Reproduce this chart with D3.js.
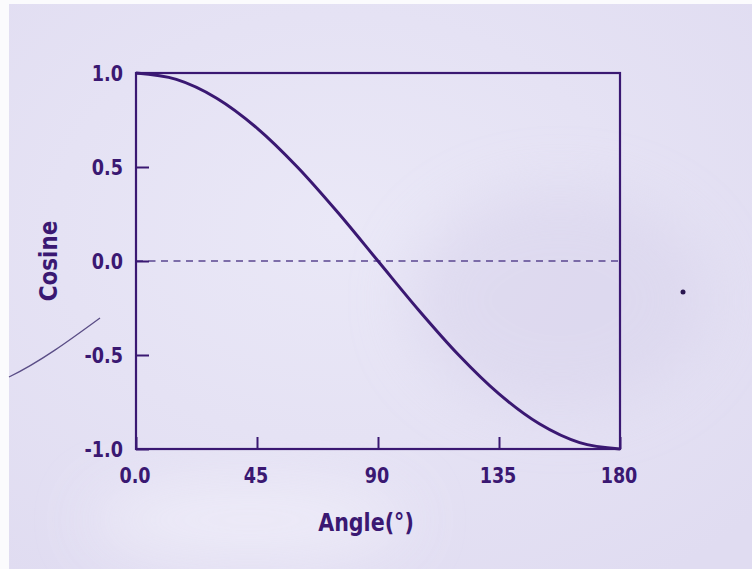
<!DOCTYPE html>
<html>
<head>
<meta charset="utf-8">
<script src="https://cdn.jsdelivr.net/npm/d3@7"></script>
<style>
  body { margin: 0; background: #fff; }
  svg { display: block; }
  text { font-family: "DejaVu Sans", "Liberation Sans", sans-serif; font-weight: bold; fill: #3a1872; }
</style>
</head>
<body>
<svg width="752" height="569"></svg>
<script>
// values (angle in degrees, cosine)
var angles = [0, 15, 30, 45, 60, 75, 90, 105, 120, 135, 150, 165, 180];
var cosines = [1.0, 0.966, 0.866, 0.707, 0.5, 0.259, 0.0, -0.259, -0.5, -0.707, -0.866, -0.966, -1.0];
var xTicks = [0, 45, 90, 135, 180];
var xTickLabels = ["0.0", "45", "90", "135", "180"];
var yTicks = [1.0, 0.5, 0.0, -0.5, -1.0];
var yTickLabels = ["1.0", "0.5", "0.0", "-0.5", "-1.0"];

var ink = "#3a1872";
var squeeze = 0.8;   // condensed look of the printed labels

var svg = d3.select("svg"),
    width = +svg.attr("width"),
    height = +svg.attr("height");

// paper background of the scan
var defs = svg.append("defs");
var grad = defs.append("radialGradient").attr("id", "paper")
  .attr("cx", "45%").attr("cy", "40%").attr("r", "75%");
grad.append("stop").attr("offset", "0%").attr("stop-color", "#eae8f7");
grad.append("stop").attr("offset", "100%").attr("stop-color", "#e0dcf1");
var blur = defs.append("filter").attr("id", "soft").attr("x", "-50%").attr("y", "-50%").attr("width", "200%").attr("height", "200%");
blur.append("feGaussianBlur").attr("stdDeviation", 30);

svg.append("rect").attr("width", width).attr("height", height).attr("fill", "url(#paper)");
// faint darker patches
svg.append("ellipse").attr("cx", 560).attr("cy", 300).attr("rx", 150).attr("ry", 110)
  .attr("fill", "#d9d4ec").attr("opacity", 0.6).attr("filter", "url(#soft)");
svg.append("ellipse").attr("cx", 250).attr("cy", 520).attr("rx", 160).attr("ry", 40)
  .attr("fill", "#f0eef9").attr("opacity", 0.8).attr("filter", "url(#soft)");
// scanner white borders
svg.append("rect").attr("x", 0).attr("y", 0).attr("width", 9).attr("height", height).attr("fill", "#fbfbfd");
svg.append("rect").attr("x", 0).attr("y", 0).attr("width", width).attr("height", 4).attr("fill", "#fbfbfd");

// plot box
var x0 = 136, x1 = 620, y0 = 73, y1 = 449;
var x = d3.scaleLinear().domain([0, 180]).range([x0, x1]);
var y = d3.scaleLinear().domain([-1, 1]).range([y1, y0]);

var g = svg.append("g");

// dashed zero line
g.append("line")
  .attr("x1", x(0)).attr("x2", x(180))
  .attr("y1", y(0)).attr("y2", y(0))
  .attr("stroke", "#5a4690").attr("stroke-width", 1.6)
  .attr("stroke-dasharray", "7,5.5");

// axes, ticks pointing into the plot
var xAxis = d3.axisTop(x).tickValues(xTicks).tickSize(12).tickFormat("");
var yAxis = d3.axisRight(y).tickValues(yTicks).tickSize(13).tickFormat("");

g.append("g").attr("transform", "translate(0," + y1 + ")").call(xAxis)
  .call(function(a) { a.select(".domain").remove(); });
g.append("g").attr("transform", "translate(" + x0 + ",0)").call(yAxis)
  .call(function(a) { a.select(".domain").remove(); });
g.selectAll(".tick line").attr("stroke", ink).attr("stroke-width", 2);

g.append("rect")
  .attr("x", x0).attr("y", y0)
  .attr("width", x1 - x0).attr("height", y1 - y0)
  .attr("fill", "none").attr("stroke", ink).attr("stroke-width", 2.2);

// cosine curve
var line = d3.line()
  .x(function(d, i) { return x(angles[i]); })
  .y(function(d) { return y(d); })
  .curve(d3.curveMonotoneX);

g.append("path")
  .datum(cosines)
  .attr("d", line)
  .attr("fill", "none")
  .attr("stroke", ink)
  .attr("stroke-width", 3);

// tick labels
g.selectAll(".ylab")
  .data(yTicks)
  .enter().append("text")
  .attr("class", "ylab")
  .attr("transform", function(d) { return "translate(123," + y(d) + ") scale(" + squeeze + ",1)"; })
  .attr("dy", "0.36em")
  .attr("text-anchor", "end")
  .style("font-size", "22px")
  .text(function(d, i) { return yTickLabels[i]; });

g.selectAll(".xlab")
  .data(xTicks)
  .enter().append("text")
  .attr("class", "xlab")
  .attr("transform", function(d) { return "translate(" + (x(d) - 1) + ",483) scale(" + squeeze + ",1)"; })
  .attr("text-anchor", "middle")
  .style("font-size", "22px")
  .text(function(d, i) { return xTickLabels[i]; });

// axis titles
svg.append("text")
  .attr("transform", "translate(57,261) rotate(-90) scale(0.86,1)")
  .attr("text-anchor", "middle")
  .style("font-size", "25px")
  .text("Cosine");

svg.append("text")
  .attr("transform", "translate(366,531) scale(0.86,1)")
  .attr("text-anchor", "middle")
  .style("font-size", "24px")
  .text("Angle(°)");

// stray pen stroke and dot on the scanned page
svg.append("path")
  .attr("d", "M9,377 C40,362 70,340 100,318")
  .attr("fill", "none").attr("stroke", "#5a4d86").attr("stroke-width", 1.3);
svg.append("circle").attr("cx", 683).attr("cy", 292).attr("r", 2.5).attr("fill", "#2a1650");
</script>
</body>
</html>
